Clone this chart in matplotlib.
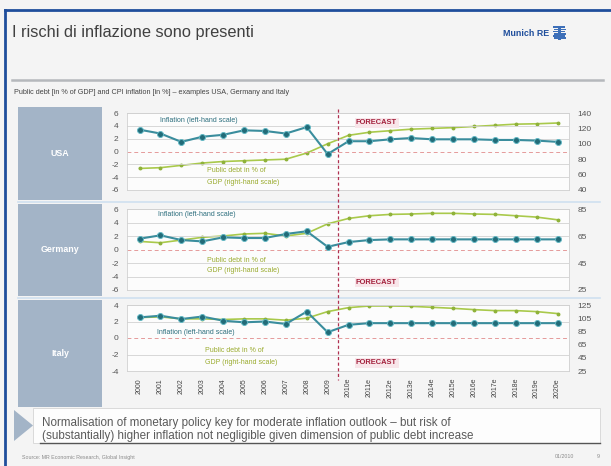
import matplotlib
matplotlib.use("Agg")
import matplotlib.pyplot as plt
from matplotlib.patches import Rectangle, Polygon
from matplotlib.lines import Line2D

plt.rcParams["font.family"] = ["Liberation Sans", "DejaVu Sans"]

# ---- data -------------------------------------------------------------
years = ["2000", "2001", "2002", "2003", "2004", "2005", "2006", "2007",
         "2008", "2009", "2010e", "2011e", "2012e", "2013e", "2014e",
         "2015e", "2016e", "2017e", "2018e", "2019e", "2020e"]

usa_inflation = [3.4, 2.8, 1.5, 2.3, 2.6, 3.3, 3.2, 2.8, 3.8, -0.4,
                 1.6, 1.6, 1.9, 2.1, 1.9, 1.9, 1.9, 1.8, 1.8, 1.7, 1.5]
usa_debt = [68, 69, 72, 75, 77, 78, 79, 80, 88, 100,
            111, 115, 117, 119, 120, 121, 122.5, 124, 125.5, 126, 127]

ger_inflation = [1.6, 2.1, 1.4, 1.2, 1.8, 1.7, 1.7, 2.3, 2.7, 0.4,
                 1.1, 1.4, 1.5, 1.5, 1.5, 1.5, 1.5, 1.5, 1.5, 1.5, 1.5]
ger_debt = [61, 60, 62, 64, 65, 66.5, 67, 65, 67, 74,
            78, 80, 81, 81.3, 81.8, 81.8, 81.3, 81, 80, 79, 77]

ita_inflation = [2.5, 2.7, 2.3, 2.6, 2.1, 1.9, 2.0, 1.7, 3.2, 0.7,
                 1.6, 1.8, 1.8, 1.8, 1.8, 1.8, 1.8, 1.8, 1.8, 1.8, 1.8]
ita_debt = [106, 107, 104, 104, 103, 104, 104, 102, 105, 115,
            121, 123.5, 123.5, 123, 121.5, 120, 118, 116.5, 116.5, 115, 112]

countries = ["USA", "Germany", "Italy"]
forecast_start = 9.5  # between 2009 and 2010e

W, H = 611, 466
fig = plt.figure(figsize=(W / 100, H / 100), dpi=100, facecolor="#f4f4f4")


def rect(x0, y0, x1, y1):
    return [x0 / W, 1 - y1 / H, (x1 - x0) / W, (y1 - y0) / H]


def fx(x):
    return x / W


def fy(y):
    return 1 - y / H


# ---- slide frame ------------------------------------------------------
fig.add_artist(Line2D([fx(5), fx(611)], [fy(10), fy(10)], color="#1f4e9c", lw=2))
fig.add_artist(Line2D([fx(5), fx(5)], [fy(10), fy(466)], color="#1f4e9c", lw=2))
fig.add_artist(Line2D([fx(12), fx(603)], [fy(80), fy(80)], color="#b5b8bc", lw=1.8))

fig.text(fx(12), fy(33), "I rischi di inflazione sono presenti", fontsize=11.8,
         color="#404040", va="center", ha="left")
fig.text(fx(549), fy(34), "Munich RE", fontsize=6.4, color="#1f4e9c",
         va="center", ha="right", fontweight="bold")
for i in range(6):
    fig.add_artist(Rectangle((fx(553 + (i % 2)), fy(28 + i * 2.2)), 12 / W, 1.5 / H,
                             color="#3d6fb8", lw=0))
fig.add_artist(Rectangle((fx(558), fy(40)), 2.5 / W, 14 / H, color="#3d6fb8", lw=0))

fig.text(fx(14), fy(93),
         "Public debt [in % of GDP] and CPI inflation [in %] \u2013 examples USA, Germany and Italy",
         fontsize=5.2, color="#444444", va="center", ha="left")

# ---- panels -----------------------------------------------------------
panel_cfg = {
    "USA": dict(infl=usa_inflation, debt=usa_debt, left=(-6, 6), lstep=2,
                right=(40, 140), rticks=[40, 60, 80, 100, 120, 140],
                box=(107, 200), plot=(113, 190), infl_lbl=(160, 121),
                debt_lbl=(207, 171), fc_lbl=(356, 123)),
    "Germany": dict(infl=ger_inflation, debt=ger_debt, left=(-6, 6), lstep=2,
                    right=(25, 85), rticks=[25, 45, 65, 85],
                    box=(204, 296), plot=(209, 290), infl_lbl=(158, 215),
                    debt_lbl=(207, 260), fc_lbl=(356, 282)),
    "Italy": dict(infl=ita_inflation, debt=ita_debt, left=(-4, 4), lstep=2,
                  right=(25, 125), rticks=[25, 45, 65, 85, 105, 125],
                  box=(300, 407), plot=(305, 371), infl_lbl=(157, 333),
                  debt_lbl=(205, 351), fc_lbl=(356, 363)),
}

x = list(range(len(years)))
ax_list = []
for name in countries:
    cfg = panel_cfg[name]
    b0, b1 = cfg["box"]
    # country label box
    fig.add_artist(Rectangle((fx(18), fy(b1)), 84 / W, (b1 - b0) / H,
                             facecolor="#a3b4c7", edgecolor="none"))
    fig.text(fx(60), fy((b0 + b1) / 2), name, color="white", fontsize=6.4,
             fontweight="bold", ha="center", va="center")

    p0, p1 = cfg["plot"]
    ax = fig.add_axes(rect(127, p0, 569, p1))
    lo, hi = cfg["left"]
    ax.set_ylim(lo, hi)
    ax.set_xlim(-0.6, 20.55)
    lt = list(range(lo, hi + 1, cfg["lstep"]))
    ax.set_yticks(lt)
    ax.set_yticklabels([str(v) for v in lt])
    for v in lt:
        if v == 0:
            ax.axhline(v, color="#e59a9a", lw=0.7, ls=(0, (4, 3)), zorder=1)
        else:
            ax.axhline(v, color="#d2d2d2", lw=0.6, zorder=1)
    ax.tick_params(axis="y", length=0, labelsize=6, labelcolor="#555555", pad=6)
    for s in ax.spines.values():
        s.set_color("#d0d0d0")
        s.set_linewidth(0.6)

    ax2 = ax.twinx()
    ax2.set_ylim(*cfg["right"])
    ax2.set_yticks(cfg["rticks"])
    ax2.set_yticklabels([str(v) for v in cfg["rticks"]])
    ax2.tick_params(axis="y", length=0, labelsize=6, labelcolor="#555555", pad=6)
    for s in ax2.spines.values():
        s.set_visible(False)

    ax2.plot(x, cfg["debt"], color="#a9c94b", lw=1.2, marker="o", ms=1.8,
             mfc="#8fb23a", mec="#8fb23a", zorder=3)
    ax.plot(x, cfg["infl"], color="#3a8d9d", lw=1.5, marker="o", ms=4.3,
            mfc="#226b78", mec="#62b8c4", mew=0.7, zorder=4)
    ax.set_zorder(ax2.get_zorder() + 1)
    ax.patch.set_visible(False)
    ax2.patch.set_visible(True)
    ax2.patch.set_facecolor("#fcfcfc")

    ax.set_xticks(x)
    if name == "Italy":
        ax.set_xticklabels(years, rotation=90, fontsize=5.0, color="#444444")
        ax.tick_params(axis="x", length=0, pad=5)
    else:
        ax.set_xticklabels([])
        ax.tick_params(axis="x", length=0)

    ix, iy = cfg["infl_lbl"]
    fig.text(fx(ix), fy(iy), "Inflation (left-hand scale)", fontsize=5.0,
             color="#2c6e7d", va="center", ha="left")
    dx, dy = cfg["debt_lbl"]
    fig.text(fx(dx), fy(dy), "Public debt in % of", fontsize=5.0,
             color="#9aab2e", va="center", ha="left")
    fig.text(fx(dx), fy(dy + 11), "GDP (right-hand scale)", fontsize=5.0,
             color="#9aab2e", va="center", ha="left")
    cx, cy = cfg["fc_lbl"]
    fig.text(fx(cx), fy(cy), "FORECAST", fontsize=5.4, color="#a3203c",
             fontweight="bold", va="center", ha="left",
             bbox=dict(boxstyle="square,pad=0.2", fc="#f8e6ea", ec="none"))
    ax_list.append(ax)

# panel separators
for y in (202, 298):
    fig.add_artist(Line2D([fx(18), fx(600)], [fy(y), fy(y)], color="#cfe0f0", lw=1.2))

# forecast divider through all panels
top_ax = ax_list[0]
xd = top_ax.transData.transform((forecast_start, 0))[0] / fig.bbox.width
fig.add_artist(Line2D([xd, xd], [fy(109), fy(380)], color="#b03050", lw=0.9,
                      ls=(0, (2.5, 2))))

# ---- key message box --------------------------------------------------
fig.add_artist(Rectangle((fx(33), fy(443)), 567 / W, 35 / H, facecolor="#fdfdfd",
                         edgecolor="#d5d5d5", lw=0.6))
fig.add_artist(Line2D([fx(40), fx(600)], [fy(443), fy(443)], color="#555555", lw=1.0))
fig.add_artist(Polygon([(fx(14), fy(410)), (fx(33), fy(425.5)), (fx(14), fy(441))],
                       closed=True, facecolor="#a3b4c7", edgecolor="none"))
fig.text(fx(42), fy(423),
         "Normalisation of monetary policy key for moderate inflation outlook \u2013 but risk of",
         fontsize=8.4, color="#5a5a5a", va="center", ha="left")
fig.text(fx(42), fy(435.5),
         "(substantially) higher inflation not negligible given dimension of public debt increase",
         fontsize=8.4, color="#5a5a5a", va="center", ha="left")

fig.text(fx(22), fy(457), "Source: MR Economic Research, Global Insight", fontsize=3.8,
         color="#8a8a8a", va="center", ha="left")
fig.text(fx(555), fy(457), "01/2010", fontsize=3.8, color="#8a8a8a", va="center", ha="left")
fig.text(fx(597), fy(457), "9", fontsize=3.8, color="#8a8a8a", va="center", ha="left")

fig.savefig("out.png", dpi=100, facecolor=fig.get_facecolor())
